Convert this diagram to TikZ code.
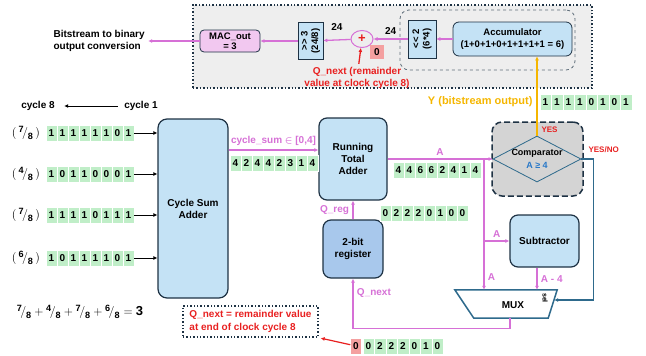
\documentclass[tikz,border=0pt]{standalone}
\usepackage{fontspec}
\setmainfont{Liberation Sans}
\usepackage{amsmath}
\usetikzlibrary{positioning, arrows.meta, shapes.geometric}

\definecolor{blkblue}{RGB}{196,226,245}
\definecolor{regblue}{RGB}{168,200,236}
\definecolor{dark}{RGB}{30,50,68}
\definecolor{linkpink}{RGB}{214,112,214}
\definecolor{bitgreen}{RGB}{192,238,200}
\definecolor{zerored}{RGB}{244,160,160}
\definecolor{alertred}{RGB}{232,32,32}
\definecolor{ygold}{RGB}{245,182,0}
\definecolor{selteal}{RGB}{46,106,140}
\definecolor{panel}{RGB}{238,238,238}
\definecolor{cmpgray}{RGB}{212,212,212}
\definecolor{macpink}{RGB}{242,200,240}
\definecolor{geblue}{RGB}{40,120,200}

\begin{document}
\begin{tikzpicture}[x=1pt, y=-1pt, font=\bfseries\fontsize{10}{12}\selectfont,
    blk/.style={draw=dark, line width=1.2pt, fill=blkblue, rounded corners=8pt, align=center},
    shiftbox/.style={draw=dark, line width=0.6pt, fill=blkblue, align=center, inner sep=1pt, font=\bfseries\fontsize{9.5}{10.5}\selectfont},
    bit/.style={fill=bitgreen, draw=white, line width=0.4pt, minimum width=11pt, minimum height=16pt, inner sep=0pt, font=\bfseries\fontsize{10}{10}\selectfont},
    pkline/.style={draw=linkpink, line width=1.3pt},
    pklabel/.style={text=linkpink},
    arr/.style={-{Latex[length=4pt,width=4pt]}}]
    \useasboundingbox (0,0) rectangle (646,356);

    \node[draw=dark, dotted, line width=1.4pt, fill=panel, minimum width=399pt, minimum height=83pt] (panel) at (392.5,46.5) {};
    \node[draw=dark!70, dashed, line width=0.8pt, rounded corners=9pt, minimum width=175pt, minimum height=60pt] (accgrp) at (487.5,40) {};
    \node[blk, line width=0.8pt, rounded corners=6pt, minimum width=119pt, minimum height=34pt, font=\bfseries\fontsize{9.5}{11.5}\selectfont] (acc) at (512.5,39) {Accumulator\\(1+0+1+0+1+1+1+1 = 6)};
    \node[shiftbox, rotate=90, minimum width=38pt, minimum height=28pt] (shl) at (422,39) {<{}< 2\\(6*4)};
    \node[ellipse, draw=linkpink, line width=1pt, minimum width=22pt, minimum height=17pt, inner sep=0pt, text=alertred, font=\bfseries\fontsize{13}{13}\selectfont] (add) at (362,39) {+};
    \node[shiftbox, rotate=90, minimum width=37pt, minimum height=25pt] (shr) at (310.5,41) {>{}> 3\\(24/8)};
    \node[draw=dark, line width=0.8pt, fill=macpink, rounded corners=4pt, minimum width=60pt, minimum height=22pt, align=center, inner sep=1pt, font=\bfseries\fontsize{9.5}{10.5}\selectfont] (mac) at (230,41) {MAC\_out\\= 3};
    \node[align=left, anchor=west] (conv) at (50,41) {Bitstream to binary\\output conversion};
    \draw[pkline, arr] (acc.west) -- (shl);
    \draw[pkline, arr] (shl) -- node[above=1pt]{24} (add);
    \draw[pkline, arr] (add) -- node[above=5pt]{24} (shr);
    \draw[pkline, arr] (shr) -- (mac);
    \draw[pkline, arr] (mac) -- (conv);
    \node[fill=zerored, minimum size=14pt, inner sep=0pt] (acc0) at (377,52) {0};
    \node[text=alertred, align=center] (qtop) at (357,78) {Q\_next (remainder\\value at clock cycle 8)};
    \draw[alertred, line width=1.3pt, arr] (qtop) -- (add);

    \node (c8) at (38,106) {cycle 8};
    \node (c1) at (141,106) {cycle 1};
    \draw[line width=1pt, arr, shorten <=3pt, shorten >=6pt] (c1) -- (c8);

    \node[blk, minimum width=70pt, minimum height=179pt, rounded corners=9pt] (csa) at (193,208.5) {Cycle Sum\\Adder};
    \foreach \row/\yy/\num/\bits in {a/133/7/{1,1,1,1,1,1,0,1}, b/174/4/{1,0,1,1,0,0,0,1}, c/215/7/{1,1,1,1,0,1,1,1}, d/258/6/{1,0,1,1,1,1,0,1}} {
      \node[font=\fontsize{13}{13}\selectfont] (f\row) at (26,\yy) {$(\,{}^{\mathbf{\num}}\!/_{\mathbf{8}}\,)$};
      \foreach \b [count=\i] in \bits
        \node[bit] (\row\i) at ({40.5+11*\i},\yy) {\b};
      \draw[line width=1pt, arr] (\row8) -- (csa.west |- \row8);
    }
    \node[font=\fontsize{13}{13}\selectfont] (sum) at (80,312) {$\mathbf{{}^{7}\!/_{8}+{}^{4}\!/_{8}+{}^{7}\!/_{8}+{}^{6}\!/_{8}=3}$};

    \node[blk, minimum width=68pt, minimum height=82pt] (rta) at (353,159) {Running\\Total\\Adder};
    \node[blk, fill=regblue, minimum width=60pt, minimum height=58pt] (reg) at (353,249) {2-bit\\register};
    \coordinate (sumlvl) at (0,150);
    \draw[pkline, arr] (csa.east |- sumlvl) -- node[above, pklabel]{cycle\_sum $\boldsymbol{\in}$ [0,4]} (rta.west |- sumlvl);
    \foreach \b [count=\i] in {4,2,4,4,2,3,1,4}
      \node[bit] (s\i) at ({224.5+11*\i},163) {\b};
    \draw[pkline, arr] (reg) -- node[left, pklabel]{Q\_reg} (rta);
    \foreach \b [count=\i] in {4,4,6,6,2,4,1,4}
      \node[bit] (t\i) at ({387.5+11*\i},170) {\b};
    \foreach \b [count=\i] in {0,2,2,2,0,1,0,0}
      \node[bit] (q\i) at ({374.5+11*\i},213) {\b};

    \node[draw=dark, dash pattern=on 6pt off 3pt, line width=1.5pt, fill=cmpgray, rounded corners=10pt, minimum width=91pt, minimum height=74pt] (cmpbox) at (537.5,159) {};
    \node[diamond, draw=selteal, line width=0.8pt, minimum width=88pt, minimum height=46pt, inner sep=0pt] (cmp) at (537,159) {};
    \node[align=center, font=\bfseries\fontsize{9}{12.5}\selectfont] (cmptxt) at (537,159) {Comparator\\\textcolor{geblue}{A ≥ 4}};
    \node[text=alertred, anchor=west, font=\bfseries\fontsize{8}{9}\selectfont] (yes) at (538,130) {YES};
    \node[text=alertred, anchor=west, font=\bfseries\fontsize{8}{9}\selectfont] (yesno) at (585,150) {YES/NO};
    \draw[ygold, line width=1.2pt, arr] (cmp.north) -- (cmp.north |- acc.south);
    \node[text=ygold, anchor=east, font=\bfseries\fontsize{11}{12}\selectfont] (ylbl) at (536,102) {Y (bitstream output)};
    \foreach \b [count=\i] in {1,1,1,1,0,1,0,1}
      \node[bit, minimum width=11.5pt] (y\i) at ({534+11.5*\i},102) {\b};

    \node[blk, minimum width=69pt, minimum height=52pt] (sub) at (544.5,241) {Subtractor};
    \node[minimum width=102pt, minimum height=28pt, inner sep=0pt] (mux) at (506,304) {};
    \draw[selteal, line width=1.5pt, fill=white] (mux.north west) -- (mux.north east) -- ([xshift=-9pt]mux.south east) -- ([xshift=19pt]mux.south west) -- cycle;
    \node (muxlbl) at (513,305) {MUX};
    \node[rotate=-90, font=\bfseries\fontsize{7}{7}\selectfont] (sel) at (545,298) {sel};

    \draw[pkline, arr] (rta) -- node[above, pklabel]{A} (cmp);
    \coordinate (ja) at (484,159);
    \coordinate (jb) at (484,241);
    \draw[pkline, arr] (ja) -- node[pos=0.9, right, pklabel]{A} (ja |- mux.north);
    \draw[pkline, arr] (jb) -- node[above, pklabel]{A} (sub);
    \draw[pkline, arr] ([xshift=-7.5pt]sub.south) -- node[right, pklabel]{A - 4} ([xshift=-7.5pt]sub.south |- mux.north);
    \draw[selteal, line width=1.5pt, arr] (cmp.east) -- ++(12pt,0) |- ([xshift=-3pt,yshift=4pt]mux.east);
    \draw[pkline, arr] ([xshift=4pt]mux.south) -- ++(0,10) -| node[pos=0.85, right, pklabel]{Q\_next} (reg);

    \node[bit, fill=zerored] (n0) at (356,346) {0};
    \foreach \b [count=\i] in {0,2,2,2,0,1,0}
      \node[bit, minimum width=11.5pt] (n\i) at ({357+11.5*\i},346) {\b};
    \node[draw=dark, dotted, line width=1.4pt, text=alertred, align=left, minimum width=135pt, minimum height=31pt, font=\bfseries\fontsize{10}{13}\selectfont] (qbox) at (250.5,321.5) {Q\_next = remainder value\\at end of clock cycle 8};
    \draw[alertred, line width=1.2pt, arr, shorten >=2pt] (n0) -- (qbox.south east);
  \end{tikzpicture}
\end{document}
